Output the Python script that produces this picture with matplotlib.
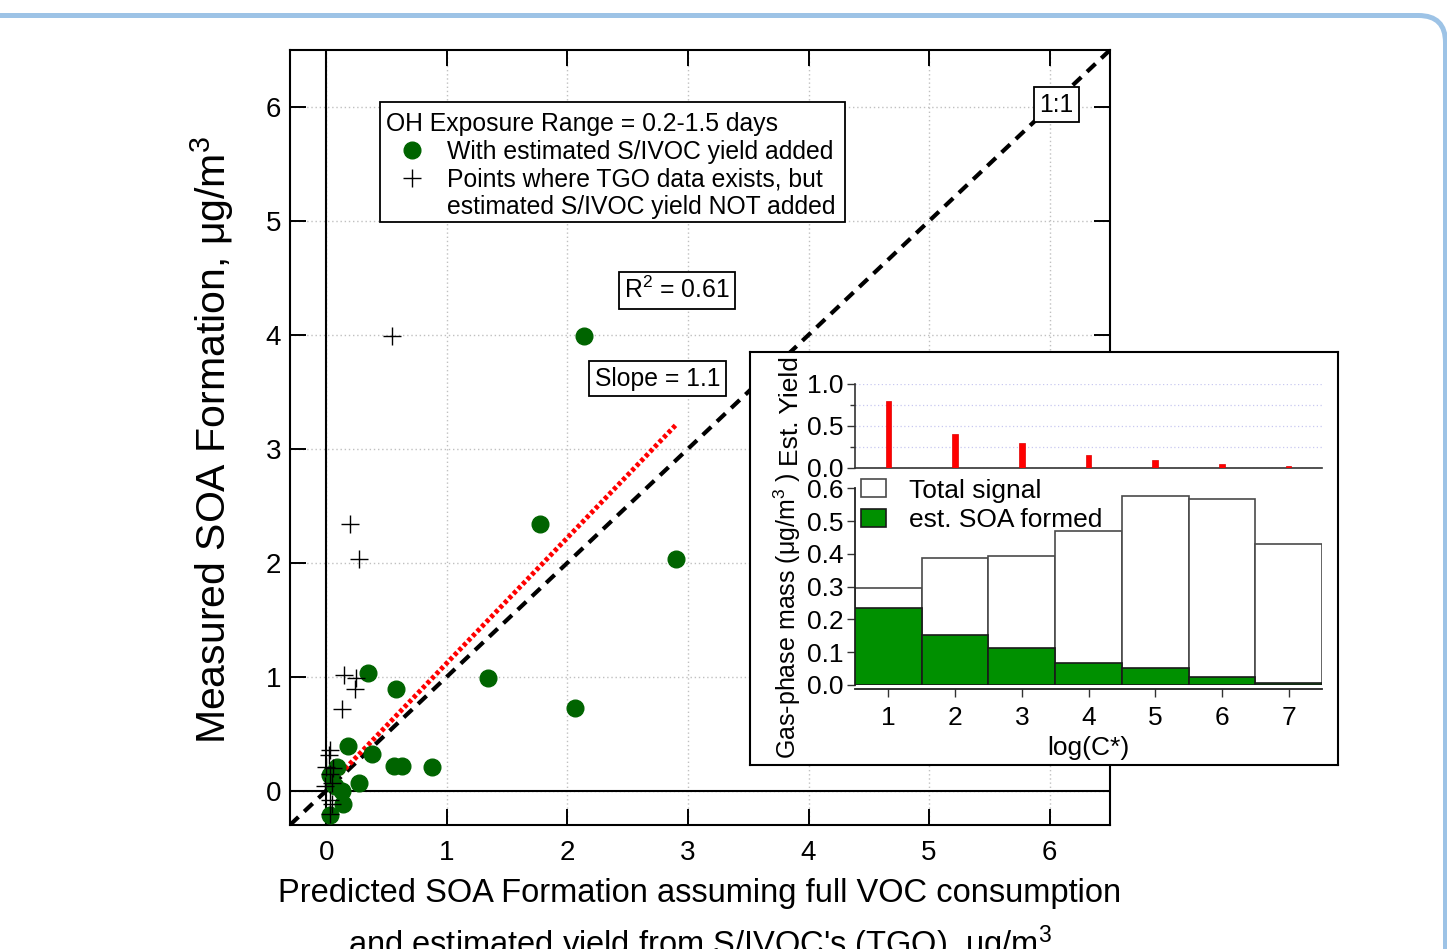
import matplotlib
matplotlib.use('Agg')
import matplotlib.pyplot as plt
from matplotlib.patches import Rectangle, FancyBboxPatch, Patch
from matplotlib.transforms import IdentityTransform
import numpy as np

plt.rcParams['font.family'] = ['Liberation Sans', 'DejaVu Sans']
plt.rcParams['mathtext.fontset'] = 'custom'
plt.rcParams['mathtext.rm'] = 'Liberation Sans'
plt.rcParams['mathtext.it'] = 'Liberation Sans:italic'
plt.rcParams['mathtext.bf'] = 'Liberation Sans:bold'

# ---- Main comparison: predicted vs measured SOA formation (ug/m3) ----
# points with the estimated S/IVOC yield added
tgo_x = [2.14, 1.77, 2.90, 1.34, 2.06, 0.35, 0.58, 0.18, 0.38, 0.56, 0.63,
         0.88, 0.27, 0.09, 0.03, 0.13, 0.14, 0.03, 0.07]
tgo_y = [3.99, 2.34, 2.03, 0.99, 0.73, 1.03, 0.89, 0.39, 0.32, 0.22, 0.22,
         0.21, 0.07, 0.21, 0.14, 0.00, -0.12, -0.21, 0.04]
# points where TGO data exists but the S/IVOC yield was not added
no_tgo_x = [0.55, 0.20, 0.27, 0.15, 0.25, 0.24, 0.13, 0.03, 0.02, 0.00,
            0.06, 0.03, 0.05, -0.01, 0.03, 0.05, 0.03]
no_tgo_y = [3.99, 2.34, 2.03, 1.02, 0.99, 0.89, 0.72, 0.36, 0.31, 0.21,
            0.20, 0.15, 0.07, 0.04, -0.08, -0.12, -0.20]

fit_slope = 1.1
fit_intercept = 0.02
fit_x_range = [0.12, 2.90]
r_squared = 0.61
oh_exposure = "0.2-1.5"
main_ticks = [0, 1, 2, 3, 4, 5, 6]
main_lim = (-0.3, 6.5)

# ---- Inset: volatility distribution ----
log_cstar = [1, 2, 3, 4, 5, 6, 7]
est_yield = [0.80, 0.40, 0.30, 0.15, 0.10, 0.05, 0.02]
total_signal = [0.296, 0.389, 0.393, 0.470, 0.577, 0.568, 0.431]
est_soa = [0.236, 0.152, 0.114, 0.067, 0.052, 0.024, 0.005]
yield_ticks = [0.0, 0.5, 1.0]
mass_ticks = [0.0, 0.1, 0.2, 0.3, 0.4, 0.5, 0.6]

DARK_GREEN = '#006400'
BAR_GREEN = '#009000'

fig = plt.figure(figsize=(14.47, 9.49), dpi=100)

# slide border (rounded corner at upper right)
fig.add_artist(FancyBboxPatch((-100, -100), 1545.5, 1033.5,
                              boxstyle='round,pad=0,rounding_size=27',
                              transform=IdentityTransform(), fill=False,
                              ec='#9dc3e6', lw=3.6, clip_on=False))

ax = fig.add_axes([0.2004, 0.1307, 0.5667, 0.8166])
ax.set_xticks(main_ticks)
ax.set_yticks(main_ticks)
ax.tick_params(axis='both', direction='in', length=11.5, width=1.4,
               top=True, right=True, labelsize=20)
ax.tick_params(axis='x', pad=10.5)
ax.tick_params(axis='y', pad=6.5)
for s in ax.spines.values():
    s.set_linewidth(1.5)
ax.grid(True, ls=(0, (1, 2)), color='#c0c0c0', lw=1.0)
ax.set_axisbelow(True)
ax.axhline(0, color='black', lw=1.5, zorder=2)
ax.axvline(0, color='black', lw=1.5, zorder=2)

# 1:1 line and fitted line
ax.plot(main_lim, main_lim, color='black', lw=3, ls=(0, (2.8, 1.9)), zorder=3)
fx = np.array(fit_x_range)
ax.plot(fx, fit_slope * fx + fit_intercept, color='red', lw=3.5,
        ls=(0, (0.8, 0.55)), zorder=4)

ax.plot(tgo_x, tgo_y, ls='none', marker='o', ms=12, color=DARK_GREEN,
        mec=DARK_GREEN, zorder=5)
ax.plot(no_tgo_x, no_tgo_y, ls='none', marker='+', ms=13, mew=1.0,
        color='black', zorder=6)

# legend block
ax.add_patch(Rectangle((0.1098, 0.778), 0.567, 0.155, transform=ax.transAxes,
                       fc='white', ec='black', lw=1.3, zorder=7))
ax.text(0.117, 0.905, f'OH Exposure Range = {oh_exposure} days',
        transform=ax.transAxes, ha='left', va='center', fontsize=17.8, zorder=8)
ax.plot([0.1488], [0.871], transform=ax.transAxes, ls='none', marker='o',
        ms=12, color=DARK_GREEN, zorder=8, clip_on=False)
ax.plot([0.1488], [0.8348], transform=ax.transAxes, ls='none', marker='+',
        ms=13, mew=1.0, color='black', zorder=8, clip_on=False)
ax.text(0.1915, 0.869, 'With estimated S/IVOC yield added',
        transform=ax.transAxes, ha='left', va='center', fontsize=17.8, zorder=8)
ax.text(0.1915, 0.8335, 'Points where TGO data exists, but',
        transform=ax.transAxes, ha='left', va='center', fontsize=17.8, zorder=8)
ax.text(0.1915, 0.798, 'estimated S/IVOC yield NOT added',
        transform=ax.transAxes, ha='left', va='center', fontsize=17.8, zorder=8)

box = dict(boxstyle='square,pad=0.22', fc='white', ec='black', lw=1.3)
ax.text(0.472, 0.690, f'R$^2$ = {r_squared:.2f}', transform=ax.transAxes,
        ha='center', va='center', fontsize=17.8, bbox=box, zorder=8)
ax.text(0.4482, 0.576, f'Slope = {fit_slope:.1f}', transform=ax.transAxes,
        ha='center', va='center', fontsize=17.8, bbox=box, zorder=8)
ax.text(0.9348, 0.9295, '1:1', transform=ax.transAxes,
        ha='center', va='center', fontsize=17.8, bbox=box, zorder=8)

ax.set_xlim(main_lim)
ax.set_ylim(main_lim)

fig.text(0.1465, 0.5364, 'Measured SOA Formation, μg/m$^3$', rotation=90,
         ha='center', va='center', fontsize=29.5)
fig.text(0.4838, 0.0498, 'Predicted SOA Formation assuming full VOC consumption',
         ha='center', va='baseline', fontsize=23.5)
fig.text(0.4838, -0.006, "and estimated yield from S/IVOC's (TGO), ug/m$^3$",
         ha='center', va='baseline', fontsize=23.5)

# ---- inset ----
bg = fig.add_axes([0.5183, 0.1939, 0.4064, 0.4352])
bg.set_xticks([])
bg.set_yticks([])
for s in bg.spines.values():
    s.set_linewidth(1.5)
    s.set_color('black')

ay = fig.add_axes([0.5909, 0.50685, 0.3227, 0.08852])
ay.patch.set_alpha(0)
ay.bar(log_cstar, est_yield, width=0.085, color='red', ec='#e00000', lw=0.5,
       zorder=3)
ay.set_xlim(0.5, 7.5)
ay.set_ylim(0, 1.0)
ay.set_yticks(yield_ticks)
ay.set_yticklabels([f'{v:.1f}' for v in yield_ticks])
ay.set_yticks([0.25, 0.75], minor=True)
ay.set_xticks([])
ay.grid(True, axis='y', which='both', ls=(0, (1, 2)), color='#c8c8f0', lw=0.9)
ay.spines['top'].set_visible(False)
ay.spines['right'].set_visible(False)
ay.spines['left'].set_bounds(0, 1.0)
for s in ('left', 'bottom'):
    ay.spines[s].set_color('#333333')
    ay.spines[s].set_linewidth(1.2)
ay.tick_params(axis='y', which='major', direction='out', length=6, width=1,
               color='#333333', labelsize=19, pad=2)
ay.tick_params(axis='y', which='minor', direction='out', length=3.5, width=1,
               color='#333333')

ab = fig.add_axes([0.5909, 0.27819, 0.3227, 0.22782])
ab.patch.set_alpha(0)
ab.bar(log_cstar, total_signal, width=1.0, color='white',
       ec='#4a4a4a', lw=1.2, zorder=2)
ab.bar(log_cstar, est_soa, width=1.0, color=BAR_GREEN,
       ec='#1a1a1a', lw=1.2, zorder=3)
ab.set_xlim(0.5, 7.5)
ab.set_ylim(0, 0.66)
ab.set_xticks(log_cstar)
ab.set_yticks(mass_ticks)
ab.set_yticklabels([f'{v:.1f}' for v in mass_ticks])
ab.spines['top'].set_visible(False)
ab.spines['right'].set_visible(False)
ab.spines['left'].set_bounds(0, 0.6)
ab.spines['bottom'].set_position(('outward', 3))
for s in ('left', 'bottom'):
    ab.spines[s].set_color('#222222')
    ab.spines[s].set_linewidth(1.3)
ab.tick_params(axis='both', direction='out', length=6, width=1,
               color='#333333', labelsize=19)
ab.tick_params(axis='y', pad=2)
ab.tick_params(axis='x', pad=6)
ab.legend([Patch(fc='white', ec='#4a4a4a', lw=1.2),
           Patch(fc=BAR_GREEN, ec='#1a1a1a', lw=1.2)],
          ['Total signal', 'est. SOA formed'], loc='upper left',
          bbox_to_anchor=(0.012, 0.955), frameon=False, fontsize=19,
          handlelength=0.95, handleheight=0.65, handletextpad=0.9,
          labelspacing=0.22, borderaxespad=0, borderpad=0)

fig.text(0.5465, 0.5669, 'Est. Yield', rotation=90, ha='center', va='center',
         fontsize=19)
fig.text(0.5440, 0.3509, 'Gas-phase mass (μg/m$^3$ )', rotation=90,
         ha='center', va='center', fontsize=18)
fig.text(0.7519, 0.2118, 'log(C*)', ha='center', va='center', fontsize=19)

fig.savefig('out.png', dpi=100, facecolor='white')
